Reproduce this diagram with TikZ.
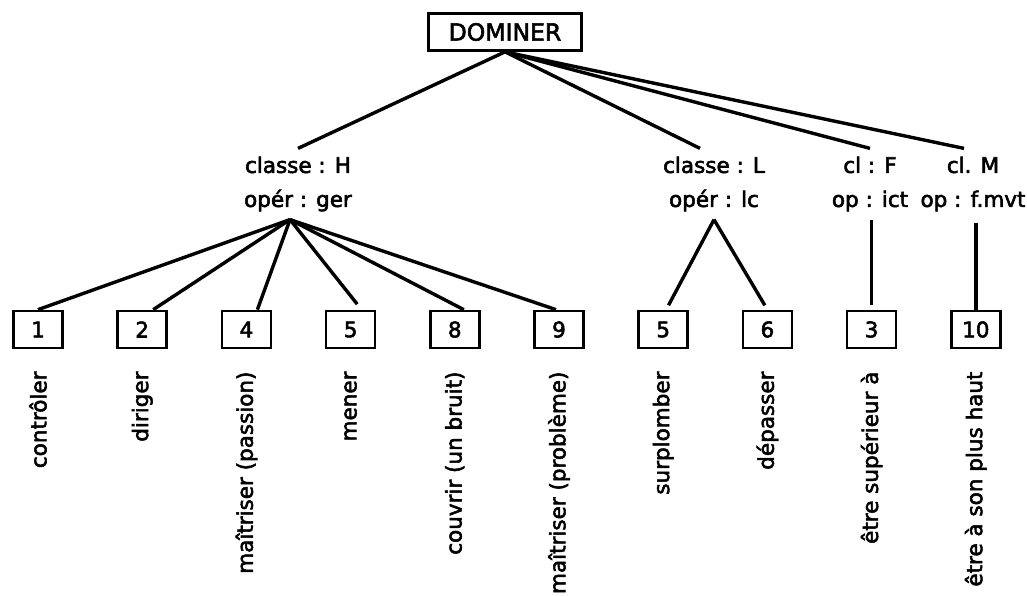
\documentclass[tikz,border=0pt]{standalone}
\usepackage{fontspec}
\setmainfont{DejaVu Sans}[FakeBold=2.5]
\usetikzlibrary{positioning}

\begin{document}
\begin{tikzpicture}[x=1pt, y=-1pt, node distance = 52.5pt,
    every node/.style={font=\fontsize{21.5}{34}\selectfont},
    root/.style={draw, line width=2.7pt, minimum width=153pt, minimum height=37pt, inner sep=0pt, font=\fontsize{23.5}{28}\selectfont},
    num/.style={draw, line width=2.7pt, minimum width=49pt, minimum height=37pt, inner sep=0pt},
    cls/.style={align=center, inner sep=8pt},
    lbl/.style={rotate=90, anchor=east, inner sep=0pt},
    branch/.style={line width=3.4pt}]
            \useasboundingbox (0,0) rectangle (1027,596);

            \node (D) [root] at (505,32) {DOMINER};
            \node (H) [cls] at (298,184) {classe : H\\opér : ger};
            \node (L) [cls] at (714,184) {classe : L\\opér : lc};
            \node (F) [cls] at (870,184) {cl : F\\op : ict};
            \node (M) [cls] at (973,184) {cl. M\\op : f.mvt};

            \node (h1) [num] at (38,329.5) {1};
            \node (h2) [num, right= of h1] {2};
            \node (h4) [num, right= of h2] {4};
            \node (h5) [num, right= of h4] {5};
            \node (h8) [num, right= of h5] {8};
            \node (h9) [num, right= of h8] {9};
            \node (l5) [num, right= of h9] {5};
            \node (l6) [num, right= of l5] {6};
            \node (f3) [num, right= of l6] {3};
            \node (m10) [num, right= of f3] {10};

            \node (t1) [below=22pt of h1, lbl] {contrôler};
            \node (t2) [below=22pt of h2, lbl] {diriger};
            \node (t4) [below=22pt of h4, lbl] {maîtriser (passion)};
            \node (t5) [below=22pt of h5, lbl] {mener};
            \node (t8) [below=22pt of h8, lbl] {couvrir (un bruit)};
            \node (t9) [below=22pt of h9, lbl] {maîtriser (problème)};
            \node (s5) [below=22pt of l5, lbl] {surplomber};
            \node (s6) [below=22pt of l6, lbl] {dépasser};
            \node (s3) [below=22pt of f3, lbl] {être supérieur à};
            \node (s10) [below=22pt of m10, lbl] {être à son plus haut};

            \coordinate (Hf) at ([xshift=-8pt]H.south);

           \path[branch]
            (D.south) edge (H.north)
            (D.south) edge ([xshift=-14pt]L.north)
            (D.south) edge (F.north)
            (D.south) edge ([xshift=-9pt]M.north)
            (Hf) edge (h1.north)
            (Hf) edge ([xshift=11pt]h2.north)
            (Hf) edge ([xshift=11pt]h4.north)
            (Hf) edge [shorten >=7pt] ([xshift=11pt]h5.north)
            (Hf) edge ([xshift=9pt]h8.north)
            (Hf) edge ([xshift=-3pt]h9.north)
            (L.south) edge [shorten >=5pt] ([xshift=3pt]l5.north)
            (L.south) edge [shorten >=5pt] (l6.north)
            (f3.north |- F.south) edge [shorten >=5pt] (f3.north)
            (m10.north |- M.south) edge [shorten <=3pt] (m10.north);
        \end{tikzpicture}
\end{document}
